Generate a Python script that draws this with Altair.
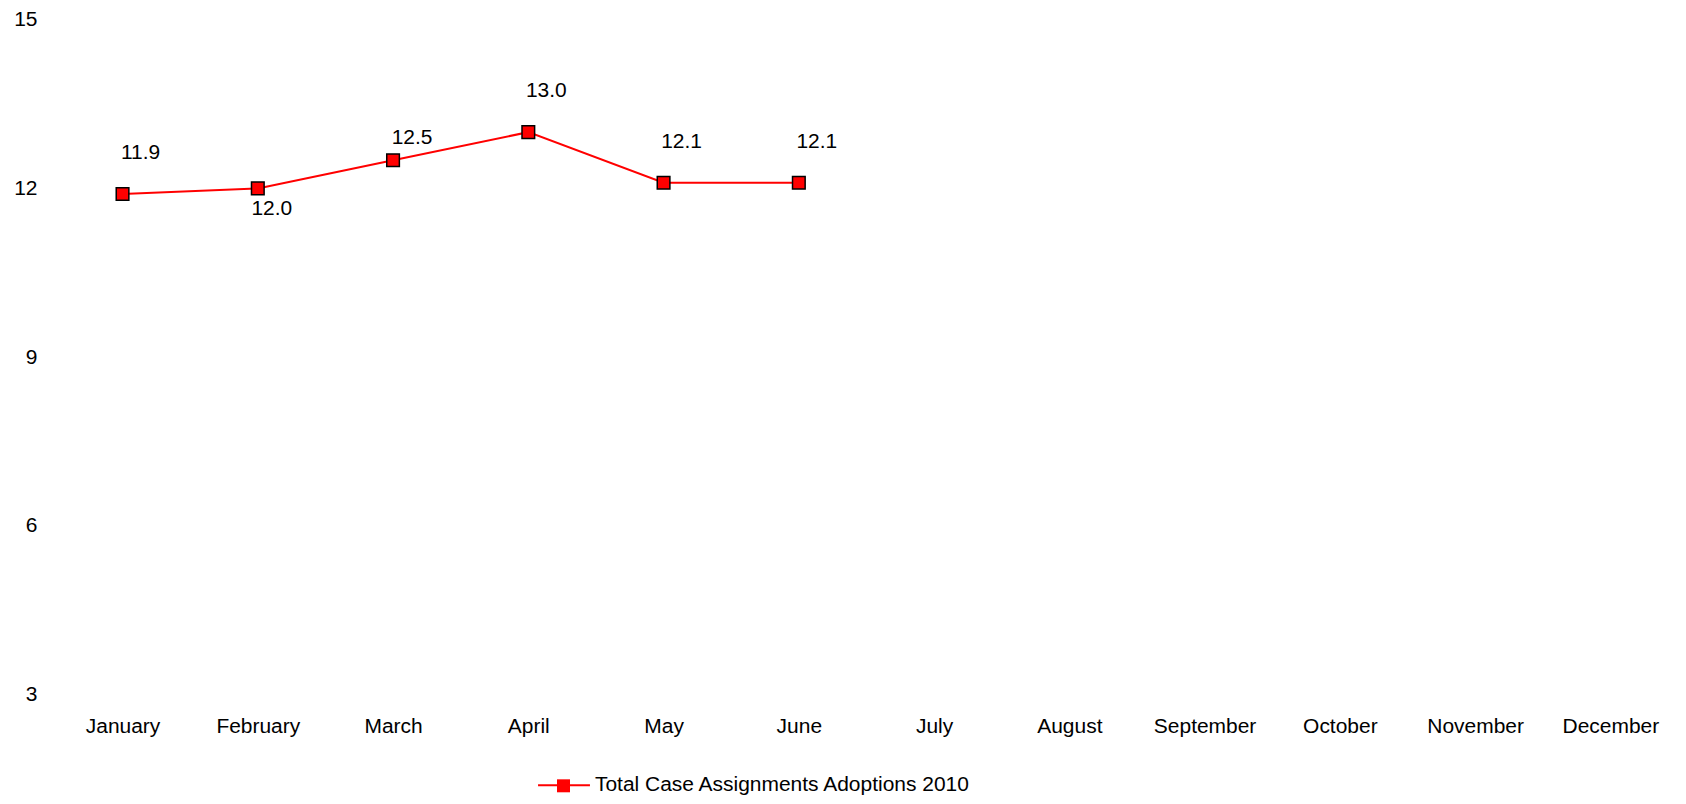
import altair as alt
import pandas as pd

months = ["January", "February", "March", "April", "May", "June",
          "July", "August", "September", "October", "November", "December"]
data_months = ["January", "February", "March", "April", "May", "June"]
values = [11.9, 12.0, 12.5, 13.0, 12.1, 12.1]
label_side = ["above", "below", "near", "above", "above", "above"]
series_name = "Total Case Assignments Adoptions 2010"
y_ticks = [3, 6, 9, 12, 15]

df = pd.DataFrame({
    "month": data_months,
    "value": values,
    "side": label_side,
    "series": [series_name] * len(values),
})

FONT = "Liberation Sans"
FS = 21

x_enc = alt.X(
    "month:N",
    sort=months,
    scale=alt.Scale(type="point", domain=months, padding=0.5),
    axis=alt.Axis(title=None, domain=False, ticks=False, grid=False, labelAngle=0,
                  labelFontSize=FS, labelFont=FONT, labelColor="black", labelPadding=21),
)
y_enc = alt.Y(
    "value:Q",
    scale=alt.Scale(domain=[3, 15], nice=False, zero=False),
    axis=alt.Axis(title=None, domain=False, ticks=False, grid=False, values=y_ticks,
                  labelFontSize=FS, labelFont=FONT, labelColor="black", labelPadding=18),
)

base = alt.Chart(df).encode(x=x_enc, y=y_enc)

line = base.mark_line(strokeWidth=2).encode(
    color=alt.Color(
        "series:N",
        scale=alt.Scale(range=["#ff0000"]),
        legend=alt.Legend(
            title=None, orient="none", legendX=483, legendY=740, padding=0,
            symbolType="stroke", symbolSize=2704, symbolStrokeWidth=2,
            labelFontSize=FS, labelFont=FONT, labelColor="black", labelOffset=4,
            labelLimit=0,
        ),
    )
)

points = base.transform_calculate(marker="datum.series").mark_point(
    filled=True, fill="#ff0000", stroke="black", strokeWidth=1.5, size=160, opacity=1
).encode(
    shape=alt.Shape(
        "marker:N",
        scale=alt.Scale(range=["square"]),
        legend=alt.Legend(
            title=None, orient="none", legendX=502, legendY=760, padding=0,
            symbolSize=169, symbolFillColor="#ff0000", symbolStrokeColor="black",
            symbolStrokeWidth=1.5, symbolOpacity=1,
            labelExpr="''", labelFontSize=1,
        ),
    )
)

def label_layer(side, dx, dy):
    return base.transform_filter(alt.datum.side == side).mark_text(
        fontSize=FS, font=FONT, color="black", dx=dx, dy=dy, align="center", baseline="middle"
    ).encode(text=alt.Text("value:Q", format=".1f"))

labels = (label_layer("above", 18, -41) + label_layer("near", 19, -22)
          + label_layer("below", 14, 21))

chart = alt.layer(line, points, labels).properties(
    width=1626, height=676,
    padding={"left": 47, "top": 11, "right": 0, "bottom": 101},
    autosize=alt.AutoSizeParams(type="none"),
    background="white",
).configure_view(stroke=None)

chart.save("out.html", embed_options={"renderer": "svg", "actions": False})
